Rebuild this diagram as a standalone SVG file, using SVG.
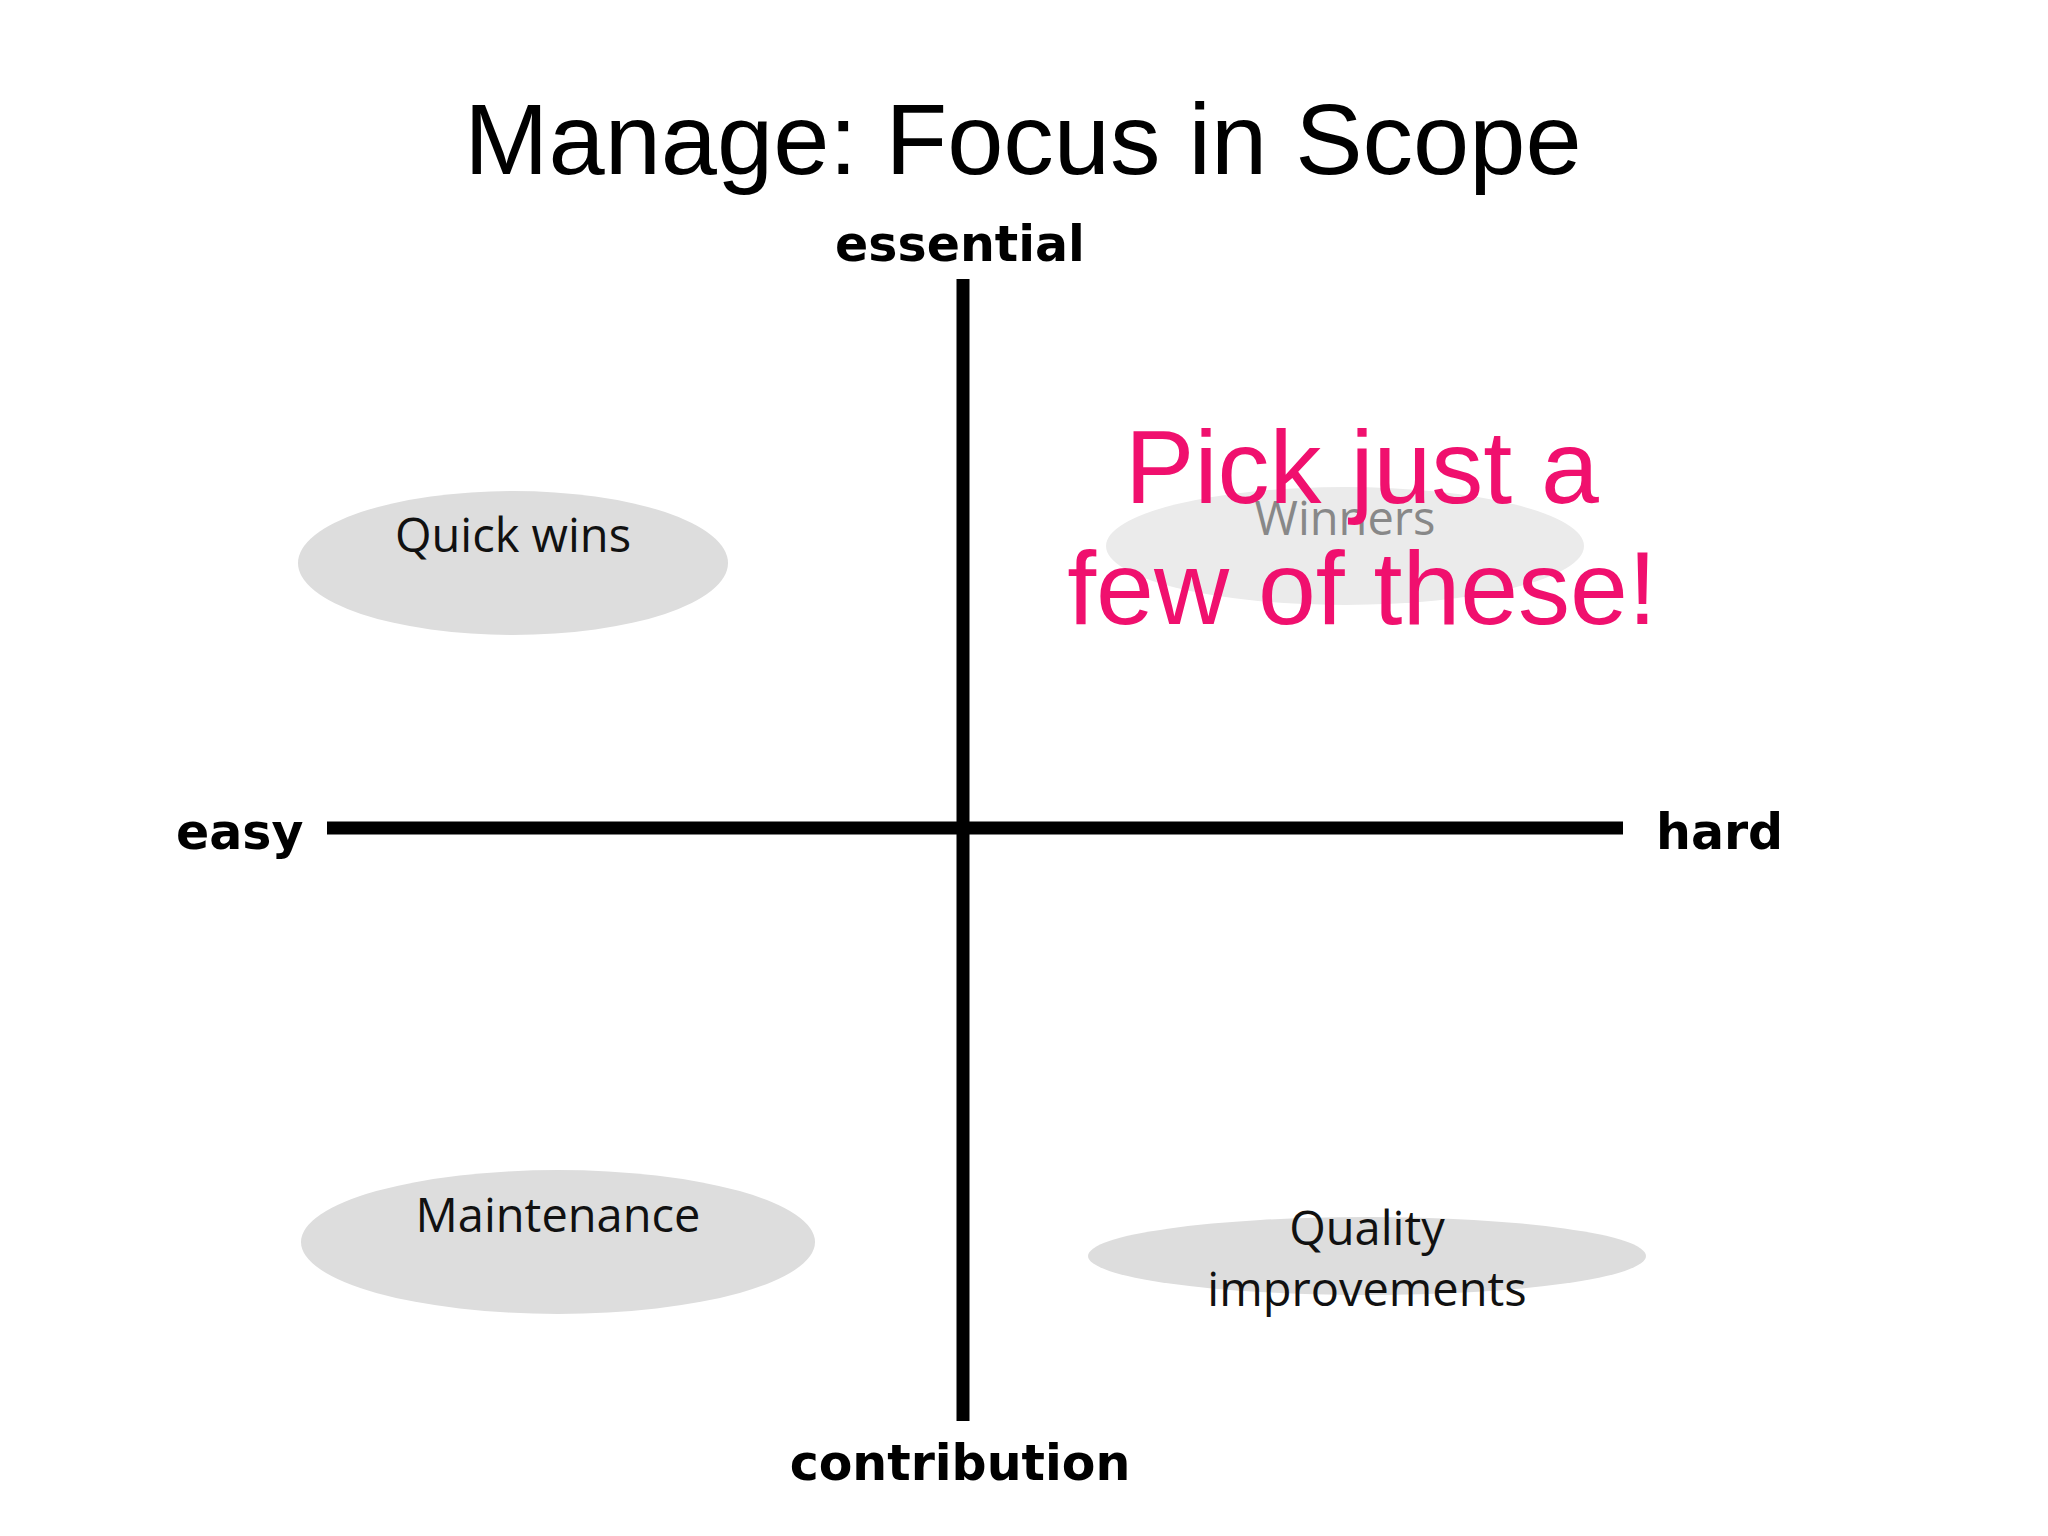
<svg xmlns="http://www.w3.org/2000/svg" width="2048" height="1536" viewBox="0 0 2048 1536">
<style>
.ax{font-family:"DejaVu Sans","Open Sans",sans-serif;font-weight:bold;font-size:49px;fill:#000}
.lbl{font-family:"Open Sans","DejaVu Sans",sans-serif;font-size:47px;fill:#111;text-anchor:middle}
.ell{fill:#dddddd}
.pink{font-family:"Liberation Sans",Arial,sans-serif;font-size:104px;fill:#f0106e;text-anchor:middle}
</style>
<rect width="2048" height="1536" fill="#fff"/>
<text x="1023" y="174" text-anchor="middle" font-family="Liberation Sans, Arial, sans-serif" font-size="101">Manage: Focus in Scope</text>
<g id="axes">
<line x1="963" y1="279" x2="963" y2="1421" stroke="#000" stroke-width="13"/>
<line x1="327" y1="828" x2="1623" y2="828" stroke="#000" stroke-width="13"/>
<text class="ax" x="960" y="261" text-anchor="middle">essential</text>
<text class="ax" x="960" y="1480" text-anchor="middle">contribution</text>
<text class="ax" x="176" y="849">easy</text>
<text class="ax" x="1656" y="849">hard</text>
</g>
<g id="quickwins"><ellipse class="ell" cx="513" cy="563" rx="215" ry="72"/><text class="lbl" x="513" y="552">Quick wins</text></g>
<g id="winners"><ellipse cx="1345" cy="546" rx="239" ry="59" fill="#ebebeb"/><text class="lbl" x="1345" y="535" style="fill:#888">Winners</text></g>
<g id="maintenance"><ellipse class="ell" cx="558" cy="1242" rx="257" ry="72"/><text class="lbl" x="558" y="1232">Maintenance</text></g>
<g id="quality"><ellipse class="ell" cx="1367" cy="1256" rx="279" ry="39"/><text class="lbl" x="1367" y="1245">Quality</text><text class="lbl" x="1367" y="1306">improvements</text></g>
<g id="note"><text class="pink" x="1362" y="503">Pick just a</text><text class="pink" x="1362" y="624">few of these!</text></g>
</svg>
